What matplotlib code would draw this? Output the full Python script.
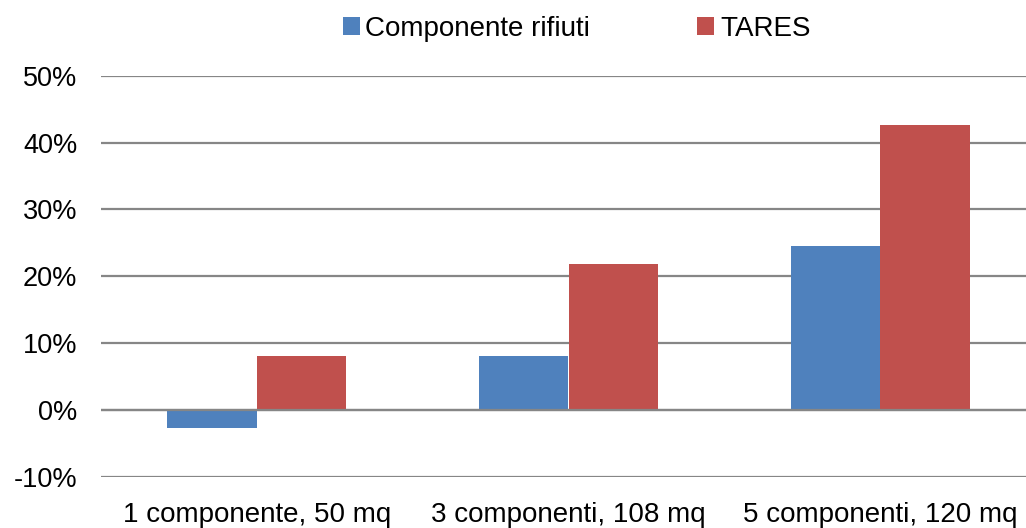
import matplotlib
matplotlib.use("Agg")
import matplotlib.pyplot as plt
import numpy as np
from matplotlib.ticker import FuncFormatter

plt.rcParams['font.family'] = ['Liberation Sans', 'DejaVu Sans']

categorie = ['1 componente, 50 mq', '3 componenti, 108 mq', '5 componenti, 120 mq']
rifiuti = [-2.7, 8.1, 24.6]
tares = [8.1, 21.9, 42.6]

blu = '#4F81BD'
rosso = '#C0504D'
grigio = '#868686'

fig = plt.figure(figsize=(10.26, 5.28), dpi=100)
ax = fig.add_axes([101 / 1026, 1 - 477 / 528, 935 / 1026, (477 - 75.7) / 528])

x = np.arange(len(categorie))
w = 0.2875
ax.bar(x - w / 2, rifiuti, w, color=blu, label='Componente rifiuti', zorder=3)
ax.bar(x + w / 2, tares, w, color=rosso, label='TARES', zorder=3)

ax.set_xlim(-0.5, 2.5)
ax.set_ylim(-10, 50)
ax.set_yticks(np.arange(-10, 51, 10))
ax.yaxis.set_major_formatter(FuncFormatter(lambda v, p: '%d%%' % v))
ax.yaxis.grid(True, color=grigio, linewidth=1.6, zorder=0)
ax.axhline(0, color=grigio, linewidth=1.6, zorder=4)
for s in ax.spines.values():
    s.set_visible(False)

ax.set_xticks(x)
ax.set_xticklabels(categorie)
ax.tick_params(axis='x', length=0, pad=18, labelsize=20)
ax.tick_params(axis='y', length=0, pad=17, labelsize=19.5)

fig.legend(loc='center', bbox_to_anchor=(0.562, 0.946), ncol=2, frameon=False,
           fontsize=20, handlelength=0.62, handleheight=0.62, handletextpad=0.2,
           columnspacing=3.85)

fig.savefig('out.png', dpi=100)
